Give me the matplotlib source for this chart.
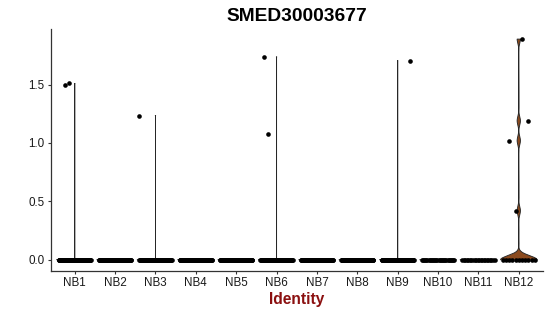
import numpy as np
import matplotlib
matplotlib.use("Agg")
import matplotlib.pyplot as plt

plt.rcParams['font.family'] = ['Liberation Sans', 'DejaVu Sans']

# ---- data ----
categories = ["NB1", "NB2", "NB3", "NB4", "NB5", "NB6",
              "NB7", "NB8", "NB9", "NB10", "NB11", "NB12"]
zero_counts = [80, 80, 80, 80, 80, 80, 80, 80, 80, 30, 22, 11]
nonzero_values = [
    [1.50, 1.51],
    [],
    [1.235],
    [],
    [],
    [1.737, 1.075],
    [],
    [],
    [1.705],
    [],
    [],
    [1.89, 1.19, 1.02, 0.42],
]
# horizontal jitter offsets of the non-zero points (positions only)
nonzero_jitter = [
    [-0.23, -0.15], [], [-0.40], [], [], [-0.32, -0.22],
    [], [], [0.31], [], [], [0.09, 0.23, -0.25, -0.08],
]
title = "SMED30003677"
xlabel = "Identity"
yticks = [0.0, 0.5, 1.0, 1.5]

# ---- style ----
violin_color = "#8B4A1E"
W, H, DPI = 550, 316, 100
fig = plt.figure(figsize=(W / DPI, H / DPI), dpi=DPI)
ax = fig.add_axes([50.5 / W, 1 - 270.7 / H, (543 - 50.5) / W, (270.7 - 29.3) / H])

half_width = 0.45
for i, (nz, vals) in enumerate(zip(zero_counts, nonzero_values)):
    pos = i + 1
    data = np.array([0.0] * nz + list(vals))
    lo, hi = data.min(), data.max()
    q25, q75 = np.percentile(data, [25, 75])
    bw = 0.035 if (q75 - q25) > 0 else 1e-4
    grid = np.linspace(lo, hi, 2000)
    dens = np.exp(-0.5 * ((grid[:, None] - data[None, :]) / bw) ** 2).sum(axis=1)
    dens = dens / dens.max() * half_width
    ax.fill_betweenx(grid, pos - dens, pos + dens, facecolor=violin_color,
                     edgecolor="none", zorder=2)
    xs = np.concatenate([pos - dens, (pos + dens)[::-1]])
    ys = np.concatenate([grid, grid[::-1]])
    ax.plot(xs, ys, color="#262626", lw=0.65, zorder=3)

    # jittered points
    zx = pos + np.linspace(-0.4, 0.4, nz)
    ax.scatter(zx, np.zeros(nz), s=11, color="black", lw=0, zorder=4)
    if vals:
        ax.scatter(pos + np.array(nonzero_jitter[i]), vals, s=11, color="black",
                   lw=0, zorder=4)

ax.set_xlim(0.4, 12.6)
ax.set_ylim(-0.094, 1.974)
ax.set_xticks(range(1, 13))
ax.set_xticklabels(categories)
ax.set_yticks(yticks)
ax.set_yticklabels([f"{v:.1f}" for v in yticks])
for s in ["top", "right"]:
    ax.spines[s].set_visible(False)
for s in ["left", "bottom"]:
    ax.spines[s].set_color("#333333")
    ax.spines[s].set_linewidth(0.9)
ax.tick_params(axis="both", length=2.5, width=0.8, color="#333333",
               labelsize=8.4, labelcolor="#1a1a1a", pad=2)

ax.set_title(title, fontsize=13.8, fontweight="bold", pad=6)
ax.set_xlabel(xlabel, fontsize=11.2, fontweight="bold", color="#8B1010", labelpad=2)

fig.savefig("out.png", dpi=DPI)
